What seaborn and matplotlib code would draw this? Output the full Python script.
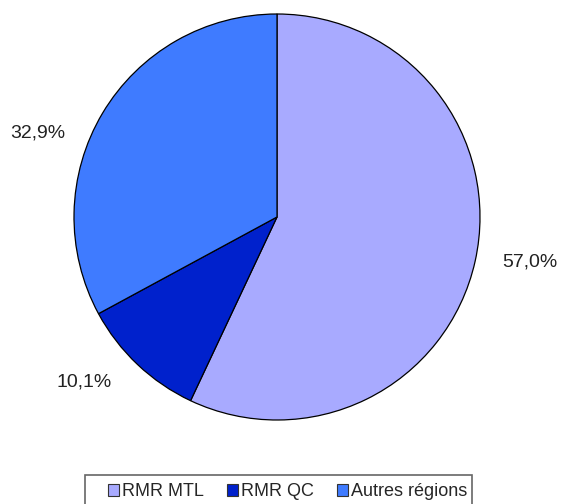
import matplotlib
matplotlib.use('Agg')
import matplotlib.pyplot as plt
from matplotlib.patches import Rectangle
import seaborn as sns

# Données
regions = ['RMR MTL', 'RMR QC', 'Autres régions']
parts = [57.0, 10.1, 32.9]
etiquettes = ['57,0%', '10,1%', '32,9%']
couleurs = sns.color_palette(['#A8AAFF', '#0021CC', '#3F7BFF'])

sns.set_theme(style='white')
plt.rcParams['font.family'] = ['Liberation Sans', 'DejaVu Sans']

fig = plt.figure(figsize=(5.61, 5.04), dpi=100)
W, H = 561, 504
cx, cy, r = 277, 217, 203
ax = fig.add_axes([(cx - r) / W, (H - cy - r) / H, 2 * r / W, 2 * r / H])

wedges, _ = ax.pie(parts, colors=couleurs, startangle=90, counterclock=False,
                   wedgeprops=dict(edgecolor='black', linewidth=0.9))
ax.set_xlim(-1, 1)
ax.set_ylim(-1, 1)
ax.set_aspect('equal')
ax.axis('off')

# positions des étiquettes (en rayons)
pos = [(1.246, -0.222), (-0.951, -0.813), (-1.177, 0.414)]
for (x, y), t in zip(pos, etiquettes):
    ax.text(x, y, t, ha='center', va='center', fontsize=14, color='#222222',
            clip_on=False)

# cadre de la légende (coupé par le bas de l'image)
fig.patches.append(Rectangle((85 / W, -10 / H), (472 - 85) / W, (H - 475 + 10) / H,
                             transform=fig.transFigure, facecolor='white',
                             edgecolor='#666666', linewidth=1.2, zorder=0))

leg = fig.legend(wedges, regions, loc='center', bbox_to_anchor=(287.5 / W, 1 - 492 / H),
                 ncol=3, fontsize=13, frameon=False,
                 handlelength=0.6, handleheight=0.6, handletextpad=0.15,
                 columnspacing=1.3, borderpad=0, borderaxespad=0)
for p in leg.get_patches():
    p.set_edgecolor('#333333')
    p.set_linewidth(0.8)

fig.savefig('out.png', dpi=100)
